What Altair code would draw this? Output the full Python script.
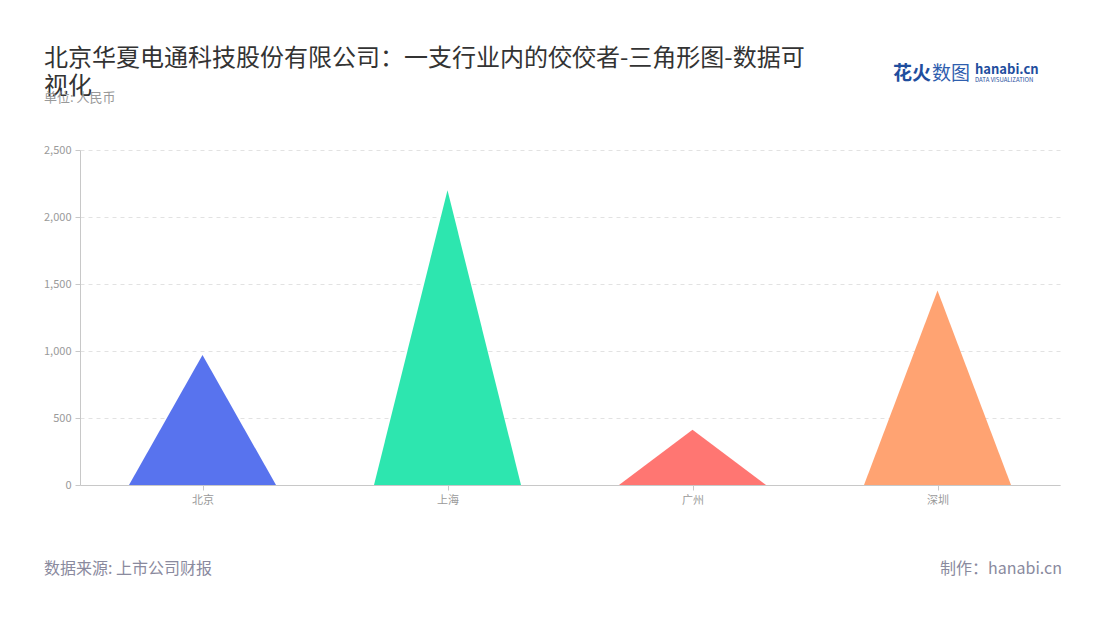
import altair as alt
import pandas as pd

cities = ["北京", "上海", "广州", "深圳"]
values = [970, 2200, 412, 1452]
palette = ["#5873EE", "#2DE6AF", "#FF7672", "#FFA372"]

title_line1 = "北京华夏电通科技股份有限公司：一支行业内的佼佼者-三角形图-数据可"
title_line2 = "视化"
subtitle = "单位: 人民币"
source = "数据来源: 上市公司财报"
maker = "制作：hanabi.cn"

FONT = "Noto Sans CJK SC"
HALF = 0.3  # half base width of each triangle, in category units

rows = []
for i, (c, v) in enumerate(zip(cities, values)):
    rows.append({"city": c, "x": i - HALF, "y": 0})
    rows.append({"city": c, "x": i, "y": v})
    rows.append({"city": c, "x": i + HALF, "y": 0})
df = pd.DataFrame(rows)

label_expr = "[" + ",".join("'%s'" % c for c in cities) + "][datum.value]"

tri = alt.Chart(df).mark_area(opacity=1, interpolate="linear").encode(
    x=alt.X("x:Q",
            scale=alt.Scale(domain=[-0.5, len(cities) - 0.5], nice=False, zero=False),
            axis=alt.Axis(title=None, values=list(range(len(cities))), labelExpr=label_expr,
                          grid=False, domainColor="#c8c8c8", tickColor="#c8c8c8",
                          tickSize=5, labelColor="#9a9a9a", labelFontSize=11,
                          labelPadding=4, labelFont=FONT)),
    y=alt.Y("y:Q", stack=None,
            scale=alt.Scale(domain=[0, 2500], nice=False),
            axis=alt.Axis(title=None, values=[0, 500, 1000, 1500, 2000, 2500], format=",.0f",
                          grid=True, gridDash=[4, 4], gridColor="#e2e2e2",
                          domainColor="#c8c8c8", tickColor="#c8c8c8", tickSize=5,
                          labelColor="#9a9a9a", labelFontSize=11, labelPadding=4,
                          labelFont=FONT)),
    color=alt.Color("city:N", scale=alt.Scale(domain=cities, range=palette), legend=None),
    detail="city:N",
)

one = pd.DataFrame({"a": [0]})

def txt(text, x, y, size, color, align="left", weight="normal", baseline="alphabetic"):
    return alt.Chart(one).mark_text(
        text=text, align=align, baseline=baseline, fontSize=size, color=color,
        font=FONT, fontWeight=weight,
    ).encode(x=alt.value(x), y=alt.value(y))

texts = [
    txt(title_line1, -36, -84, 24, "#333333"),
    txt(title_line2, -36, -56, 24, "#333333"),
    txt(subtitle, -36, -48, 13, "#999999"),
    txt("花火", 813, -70, 19, "#1F4E9E", weight="bold"),
    txt("数图", 852, -70, 19, "#2F5EAE"),
    txt("hanabi.cn", 895, -80, 13, "#1F4E9E", weight="bold", baseline="middle"),
    txt("DATA VISUALIZATION", 895, -70, 6, "#1F4E9E", baseline="middle"),
    txt(source, -36, 424, 16, "#8a8a9e"),
    txt(maker, 982, 424, 16, "#8a8a9e", align="right"),
]

chart = alt.layer(tri, *texts).properties(
    width=980, height=335,
    autosize=alt.AutoSizeParams(type="none"),
    padding={"left": 72, "top": 142, "right": 32, "bottom": 127},
    background="white",
).configure_view(strokeWidth=0, stroke="transparent")

chart.save("out.html", embed_options={"renderer": "svg", "actions": False})
